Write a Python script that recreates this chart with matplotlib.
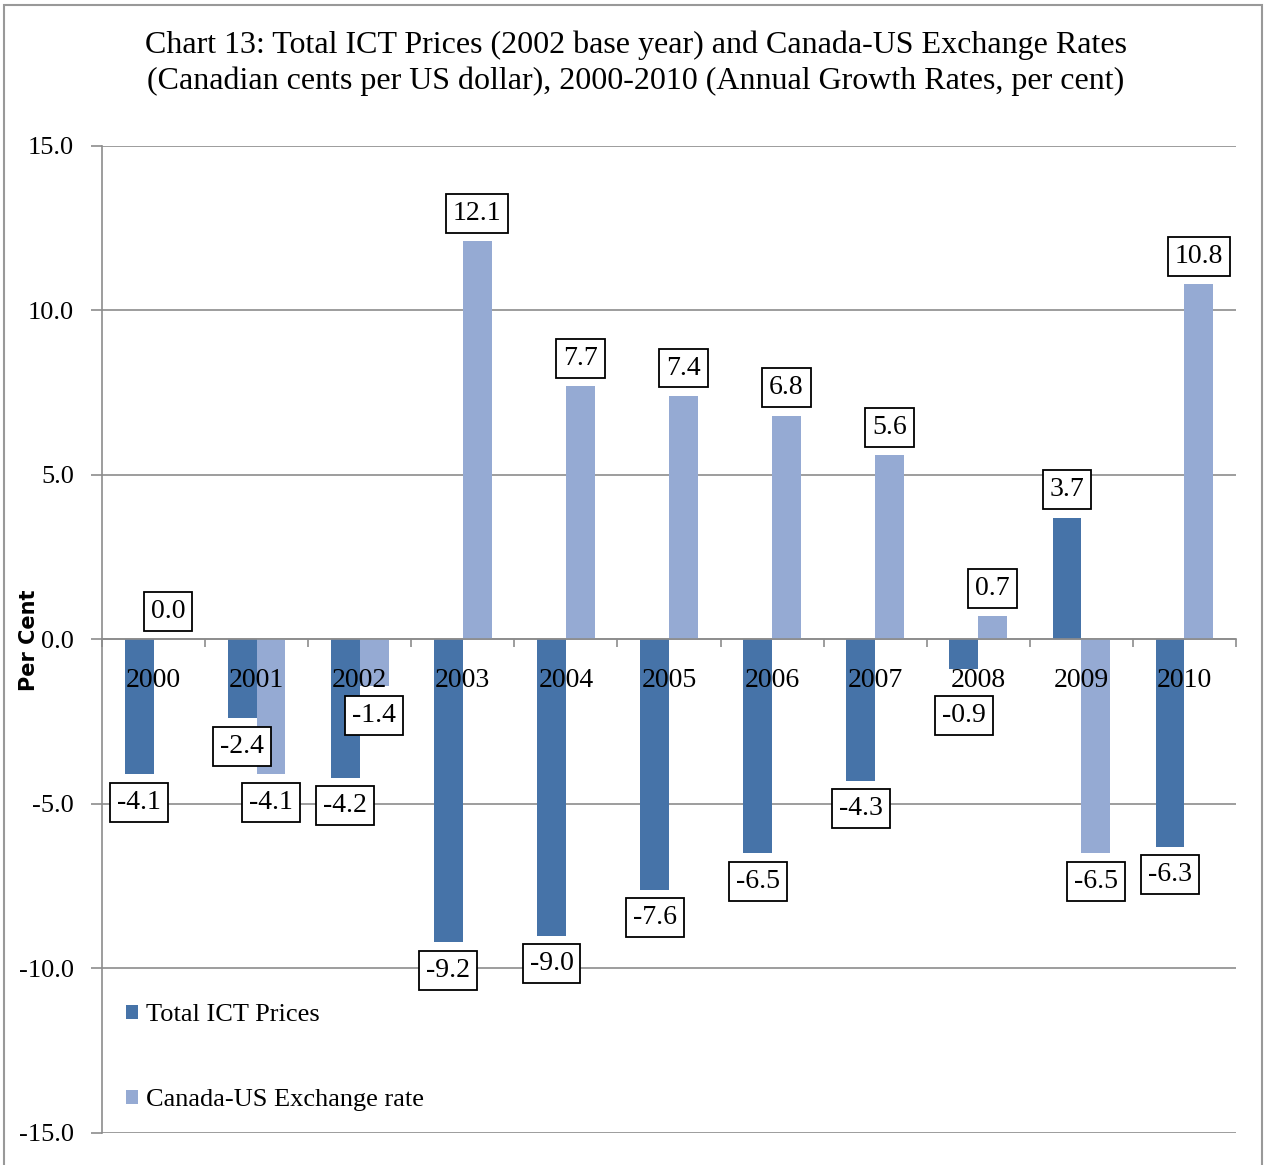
import matplotlib
matplotlib.use("Agg")
import matplotlib.pyplot as plt
import numpy as np
from matplotlib.patches import Rectangle

years = ["2000", "2001", "2002", "2003", "2004", "2005", "2006", "2007", "2008", "2009", "2010"]
ict_prices = [-4.1, -2.4, -4.2, -9.2, -9.0, -7.6, -6.5, -4.3, -0.9, 3.7, -6.3]
exchange_rate = [0.0, -4.1, -1.4, 12.1, 7.7, 7.4, 6.8, 5.6, 0.7, -6.5, 10.8]
series_names = ["Total ICT Prices", "Canada-US Exchange rate"]
y_ticks = [15.0, 10.0, 5.0, 0.0, -5.0, -10.0, -15.0]

DARK = "#4673A8"
LIGHT = "#95AAD3"
GRID = "#8C8C8C"
SERIF = ["Liberation Serif", "DejaVu Serif"]

fig = plt.figure(figsize=(12.65, 11.65), dpi=100)
ax = fig.add_axes([0.0806, 0.0275, 0.8965, 0.8472])

x = np.arange(len(years))
w = 0.28
b1 = ax.bar(x - w / 2, ict_prices, w, color=DARK, label=series_names[0], zorder=2)
b2 = ax.bar(x + w / 2, exchange_rate, w, color=LIGHT, label=series_names[1], zorder=2)

ax.set_xlim(-0.5, len(years) - 0.5)
ax.set_ylim(-15, 15)
ax.set_yticks(y_ticks)
ax.set_yticklabels([f"{v:.1f}" for v in y_ticks], fontsize=19, family=SERIF)
ax.tick_params(axis="y", length=8, width=1.2, color=GRID, pad=12)
ax.yaxis.grid(True, color=GRID, linewidth=1.2, zorder=0)
ax.set_axisbelow(True)

for side in ["top", "right"]:
    ax.spines[side].set_visible(False)
ax.spines["left"].set_color(GRID)
ax.spines["left"].set_linewidth(1.2)
ax.spines["bottom"].set_position(("data", 0))
ax.spines["bottom"].set_color(GRID)
ax.spines["bottom"].set_linewidth(1.2)

ax.set_xticks(np.arange(len(years) + 1) - 0.5)
ax.set_xticklabels([])
ax.tick_params(axis="x", length=6, width=1.2, color=GRID, direction="out")

# category names sit just under the zero line, drawn over the bars
for xi, yr in zip(x, years):
    ax.text(xi, -1.25, yr, fontsize=20, family=SERIF, ha="center", va="center", zorder=5)

def label_bars(bars, values):
    for bar, v in zip(bars, values):
        cx = bar.get_x() + bar.get_width() / 2
        if v >= 0:
            ly = v + 0.85
        else:
            ly = min(v - 0.85, -2.3)
        ax.text(cx, ly, f"{v:.1f}", ha="center", va="center", fontsize=20, family=SERIF,
                zorder=6,
                bbox=dict(boxstyle="square,pad=0.25", fc="white", ec="black", lw=1.3))

label_bars(b1, ict_prices)
label_bars(b2, exchange_rate)

fig.text(0.023, 1 - 640 / 1165, "Per Cent", rotation=90, ha="center", va="center",
         fontsize=15, fontweight="bold", family=["DejaVu Sans"])

leg = ax.legend(loc="upper left", bbox_to_anchor=(0.012, 0.141), frameon=False,
                prop={"family": SERIF, "size": 19}, handlelength=0.45, handleheight=0.45,
                handletextpad=0.3, labelspacing=2.38, borderaxespad=0)

fig.text(0.5025, 1 - 45 / 1165, "Chart 13: Total ICT Prices (2002 base year) and Canada-US Exchange Rates",
         ha="center", va="center", fontsize=23, family=SERIF)
fig.text(0.5025, 1 - 81 / 1165, "(Canadian cents per US dollar), 2000-2010 (Annual Growth Rates, per cent)",
         ha="center", va="center", fontsize=23, family=SERIF)

fig.patches.append(Rectangle((0.0035, -0.01), 0.9945, 1.006, transform=fig.transFigure,
                             fill=False, ec="#999999", lw=1.5))

fig.savefig("out.png", dpi=100)
